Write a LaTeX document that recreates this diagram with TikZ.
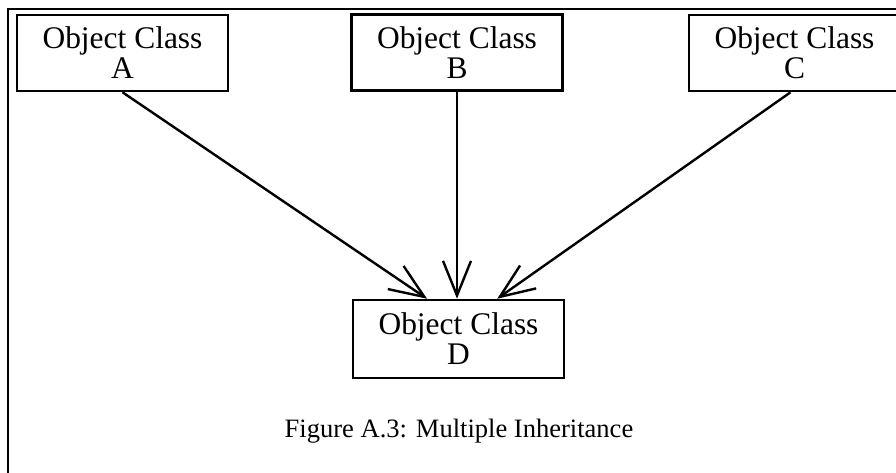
\documentclass[tikz,border=0pt]{standalone}
\usepackage{fontspec}
\setmainfont{Liberation Serif}
\usetikzlibrary{arrows.meta}
\usetikzlibrary{positioning}
\tikzset{
  classbox/.style = {draw, line width=1.9pt, minimum width=158pt, minimum height=57pt,
                     inner sep=0pt, align=center, font=\fontsize{23.6}{22.5}\selectfont},
  inherits/.style = {line width=1.8pt, -{Straight Barb[length=26pt,width=21pt,line width=1.8pt]}},
  caption/.style  = {font=\fontsize{19.9}{24}\selectfont, anchor=base}
}

\begin{document}
\begin{tikzpicture}[x=0.75pt,y=-0.75pt]
\useasboundingbox (0,0) rectangle (896,472);
\clip (0,0) rectangle (896,472);
% frame, only left and top edges show
\draw[line width=1.9pt] (8,480) -- (8,9) -- (910,9);

% the three parent classes
\node[classbox] (A) at (122.5,53) {Object Class\\A};
\node[classbox] (B) at (457,52.5) {Object Class\\B};
\node[classbox, minimum width=158.5pt] (C) at (794.5,53) {Object Class\\C};

% the derived class
\node[classbox, minimum height=58.5pt] (D) at (458.5,339) {Object Class\\D};

\draw[inherits] (A.south) -- ([xshift=-23.6pt]D.north);
\draw[inherits] (B.south) -- (B.south |- D.north);
\draw[inherits] ([xshift=-3pt]C.south) -- ([xshift=29pt]D.north);

\node[caption] (cap) at (459,437) {Figure A.3: Multiple Inheritance};
\end{tikzpicture}
\end{document}
